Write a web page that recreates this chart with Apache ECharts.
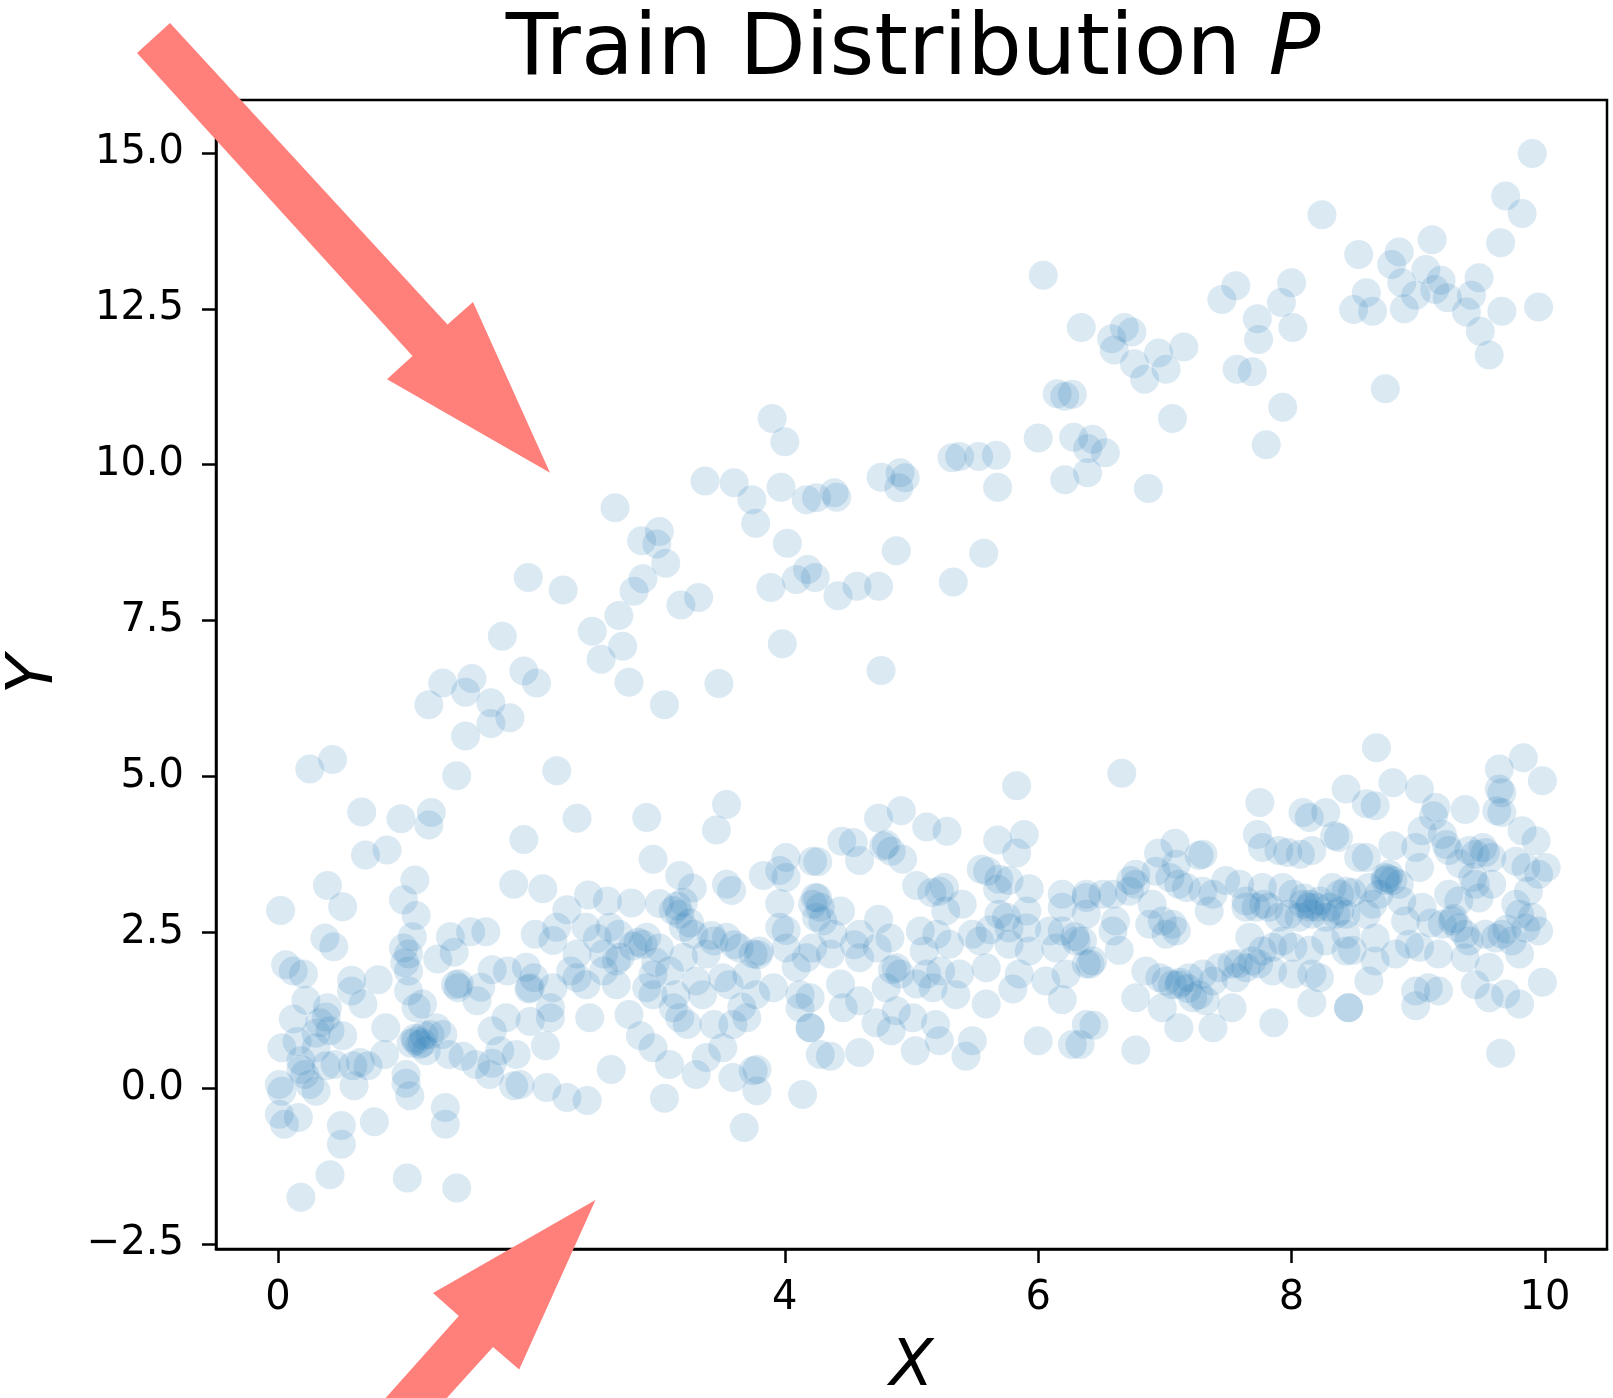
<!DOCTYPE html>
<html>
<head>
<meta charset="utf-8">
<script src="https://cdn.jsdelivr.net/npm/echarts@6/dist/echarts.min.js"></script>
<style>
html,body{margin:0;padding:0;background:#fff;}
#chart{width:1613px;height:1398px;}
</style>
</head>
<body>
<div id="chart"></div>
<script>
// ---- data ----
var xTickValues = [0, 2, 4, 6, 8, 10];
var yTickValues = [-2.5, 0, 2.5, 5, 7.5, 10, 12.5, 15];

// upper branch of the distribution
var upperPoints = [
[1.975,8.19],[2.25,7.99],[1.77,7.25],[1.94,6.69],[2.04,6.50],[1.30,6.50],[1.53,6.57],[1.48,6.35],[1.19,6.15],[1.68,6.18],[1.83,5.94],[1.68,5.85],[1.48,5.65],[0.25,5.12],[0.43,5.27],[1.41,5.01],[2.20,5.09],
[3.90,10.74],[4.00,10.37],[3.37,9.74],[3.60,9.71],[3.74,9.44],[3.77,9.06],[3.97,9.64],[4.17,9.44],[4.25,9.47],[4.39,9.55],[4.41,9.48],[4.76,9.80],[4.91,9.87],[4.95,9.79],[4.90,9.63],[4.02,8.74],[4.88,8.62],[4.18,8.32],[4.24,8.19],[4.09,8.16],[3.89,8.03],[4.42,7.90],[4.57,8.05],[4.74,8.05],[3.98,7.13],[4.76,6.70],[2.66,9.31],[3.01,8.93],[2.87,8.78],[2.99,8.73],[3.06,8.42],[2.88,8.17],[2.81,7.97],[3.18,7.75],[3.32,7.87],[2.69,7.58],[2.48,7.33],[2.72,7.09],[2.55,6.88],[2.77,6.51],[3.05,6.15],[3.48,6.49],
[6.04,13.04],[6.34,12.20],[6.58,12.02],[6.68,12.20],[6.74,12.13],[6.60,11.84],[6.76,11.62],[6.95,11.79],[7.15,11.89],[7.01,11.53],[6.84,11.37],[7.56,12.87],[7.45,12.65],[7.73,12.34],[7.74,12.01],[7.57,11.53],[7.69,11.49],[6.15,11.14],[6.21,11.10],[6.27,11.13],[7.06,10.74],[6.00,10.43],[6.28,10.44],[6.43,10.41],[6.39,10.26],[6.53,10.19],[6.21,9.76],[6.39,9.87],[6.87,9.62],[7.80,10.32],[5.32,10.11],[5.38,10.13],[5.53,10.13],[5.67,10.15],[5.68,9.64],[5.57,8.58],[5.33,8.12],
[9.90,14.99],[9.69,14.31],[9.82,14.03],[9.65,13.56],[8.24,14.01],[8.53,13.37],[8.85,13.41],[8.79,13.21],[9.11,13.61],[9.06,13.13],[8.87,12.92],[9.18,12.96],[9.13,12.81],[8.98,12.72],[9.23,12.68],[9.42,12.72],[9.48,13.00],[8.59,12.76],[8.49,12.49],[8.64,12.46],[8.89,12.50],[9.38,12.45],[9.49,12.14],[9.66,12.46],[9.95,12.53],[9.56,11.76],[8.74,11.22],[8.00,12.92],[7.92,12.60],[8.01,12.20],[7.93,10.92]
];

// lower branch, x from 0 to 2
var lowerPointsA = [
[0.66,4.43],[0.97,4.32],[1.21,4.42],[1.19,4.22],[0.69,3.74],[0.86,3.82],[1.94,3.99],[1.08,3.34],[0.39,3.25],[0.51,2.91],[0.02,2.85],[0.99,3.02],[1.09,2.77],[1.86,3.27],[0.37,2.41],[0.44,2.27],[1.06,2.43],[0.99,2.25],[1.36,2.43],[1.52,2.51],[1.64,2.51],[1.39,2.18],[0.06,1.98],[0.12,1.88],[0.20,1.83],[1.03,2.15],[1.00,2.01],[1.03,1.88],[1.26,2.07],[1.43,1.68],[1.42,1.61],[0.79,1.74],[0.58,1.73],[1.69,1.90],[1.81,1.88],[1.57,1.40],[1.98,1.59],[1.03,1.56],[0.22,1.41],[0.39,1.29],[0.58,1.56],[0.67,1.35],[0.12,1.11],[0.38,1.14],[0.51,0.84],[0.03,0.65],[0.15,0.75],[0.30,0.65],[0.41,0.92],[0.85,0.97],[1.09,1.29],[1.14,1.35],[1.09,0.76],[1.14,0.73],[1.20,0.86],[1.25,0.97],[1.30,0.86],[1.17,0.60],[1.35,0.54],[1.46,0.51],[1.56,0.38],[1.69,0.40],[1.75,0.60],[1.88,0.54],[1.67,0.22],[1.86,0.04],[0.59,0.36],[0.65,0.41],[0.71,0.36],[0.60,0.04],[0.84,0.54],[0.18,0.44],[0.38,0.36],[0.21,0.22],[0.01,0.06],[0.03,-0.05],[0.25,0.06],[0.30,-0.05],[1.01,0.22],[1.01,0.08],[1.04,-0.12],[1.32,-0.31],[1.32,-0.58],[0.01,-0.42],[0.05,-0.58],[0.16,-0.47],[0.50,-0.60],[0.50,-0.90],[0.76,-0.54],[0.41,-1.39],[0.18,-1.75],[1.02,-1.44],[1.41,-1.60],[1.80,1.13],[1.69,0.92],
[1.08,0.80],[1.12,0.70],[1.05,0.72],[1.15,0.85],[1.40,1.66],[0.33,1.05],[0.30,0.88],[0.18,0.30],[1.60,1.62],[0.45,0.38]
];

// lower branch, x from 2 to 4.3
var lowerPointsB = [
[2.36,4.33],[2.91,4.34],[3.54,4.55],[3.46,4.14],[2.96,3.67],[2.09,3.20],[2.45,3.10],[2.28,2.86],[2.60,3.00],[2.79,2.97],[3.01,2.96],[3.17,3.41],[3.27,3.21],[3.20,2.98],[3.17,2.79],[3.25,2.65],[3.54,3.27],[3.58,3.17],[3.83,3.41],[4.01,3.70],[3.96,3.49],[4.01,3.38],[4.22,3.64],[3.96,2.96],[3.96,2.58],[4.01,2.53],[4.22,2.95],[4.25,2.74],[2.03,2.47],[2.20,2.58],[2.17,2.37],[2.43,2.58],[2.62,2.58],[2.69,2.47],[2.91,2.42],[3.01,2.25],[3.20,2.58],[3.28,2.47],[3.44,2.36],[3.54,2.42],[3.64,2.25],[3.75,2.15],[3.80,2.20],[4.01,2.25],[4.22,2.25],[2.36,2.15],[2.57,2.15],[2.70,2.10],[2.88,2.31],[3.20,2.10],[3.38,2.15],[1.96,1.94],[2.02,1.77],[2.31,1.88],[2.36,1.77],[2.57,1.88],[2.67,2.04],[2.96,1.82],[3.09,1.88],[3.30,1.72],[3.51,1.77],[3.70,1.82],[3.91,1.61],[4.09,1.94],[1.99,1.61],[2.17,1.61],[2.43,1.66],[2.67,1.66],[2.91,1.61],[2.96,1.50],[3.14,1.50],[3.35,1.50],[3.56,1.66],[3.77,1.50],[4.12,1.50],[2.15,1.29],[1.99,1.07],[2.15,1.13],[2.46,1.13],[2.77,1.18],[3.12,1.29],[3.17,1.13],[3.23,1.02],[3.44,1.02],[3.59,1.02],[3.70,1.13],[4.12,1.29],[4.20,0.97],[2.11,0.68],[2.86,0.84],[2.96,0.65],[3.09,0.38],[3.30,0.22],[3.38,0.49],[3.51,0.65],[3.75,0.28],[3.78,0.30],[3.78,-0.04],[3.59,0.17],[2.63,0.30],[1.91,0.06],[2.12,0.01],[2.28,-0.15],[2.44,-0.20],[3.05,-0.16],[3.68,-0.63],[4.14,-0.10],[4.28,0.54],
[2.84,2.34],[2.80,2.28],[3.15,2.92],[3.12,2.85],[3.79,2.14],[3.60,2.30],[3.42,2.45],[2.52,2.40],[2.98,2.02],[3.66,1.30]
];

// lower branch, x from 4.2 to 6.4
var lowerPointsC = [
[5.83,4.85],[4.74,4.33],[4.92,4.45],[5.12,4.19],[5.28,4.12],[5.68,3.98],[5.89,4.07],[5.83,3.77],[4.45,3.96],[4.54,3.94],[4.59,3.65],[4.26,3.63],[4.80,3.91],[4.84,3.80],[4.93,3.67],[5.04,3.25],[5.16,3.14],[5.22,3.16],[5.26,3.22],[5.27,2.84],[5.55,3.51],[5.60,3.48],[5.69,3.35],[5.77,3.33],[5.93,3.20],[5.68,3.19],[5.69,2.79],[5.75,2.74],[5.91,2.84],[6.19,3.11],[6.38,3.06],[6.19,2.90],[4.24,3.06],[4.28,2.90],[4.44,2.84],[4.30,2.68],[4.38,2.47],[4.59,2.47],[4.74,2.71],[4.83,2.41],[4.73,2.25],[5.07,2.52],[5.20,2.47],[5.30,2.31],[5.48,2.47],[5.54,2.36],[5.77,2.57],[5.91,2.57],[6.09,2.52],[6.19,2.52],[6.30,2.36],[6.14,2.25],[5.77,2.31],[5.93,2.20],[4.17,2.09],[4.36,2.15],[4.59,2.09],[4.88,1.93],[4.91,1.83],[5.12,1.83],[5.23,1.88],[5.38,1.83],[5.59,1.93],[5.85,1.83],[6.06,1.72],[6.22,1.83],[6.38,1.99],[4.44,1.67],[4.59,1.40],[4.80,1.61],[5.04,1.67],[5.17,1.61],[5.35,1.50],[5.59,1.35],[5.80,1.59],[6.19,1.42],[4.20,1.45],[4.46,1.29],[4.72,1.05],[4.84,0.92],[4.88,1.24],[5.01,1.13],[5.19,1.02],[5.22,0.76],[5.48,0.76],[5.43,0.51],[5.03,0.60],[4.20,0.97],[4.36,0.51],[4.59,0.57],[6.00,0.76],[6.27,0.70],[6.38,1.02],
[4.26,3.05],[4.78,3.88],[4.85,1.90],[5.62,2.54],[6.29,2.43],[5.10,2.20],[4.55,2.30],[5.40,2.95]
];

// lower branch, x from 6.3 to 8.5
var lowerPointsD = [
[6.66,5.05],[7.75,4.58],[8.43,4.80],[8.09,4.42],[8.14,4.34],[8.27,4.42],[8.34,4.05],[7.73,4.07],[7.77,3.86],[7.90,3.81],[7.97,3.78],[8.07,3.75],[8.16,3.81],[8.53,3.70],[7.08,3.93],[6.95,3.77],[7.27,3.73],[7.30,3.75],[7.09,3.59],[6.77,3.43],[6.73,3.33],[6.93,3.48],[7.04,3.38],[7.11,3.27],[7.17,3.22],[7.30,3.16],[7.38,3.11],[7.48,3.33],[7.59,3.27],[7.64,3.00],[7.72,2.90],[7.77,3.22],[7.93,3.22],[8.01,3.11],[8.09,2.95],[8.14,2.90],[8.22,3.00],[8.30,2.90],[8.32,3.22],[8.43,3.16],[7.98,2.79],[8.06,2.74],[8.16,2.79],[8.27,2.74],[8.35,2.79],[6.38,3.11],[6.51,3.11],[6.59,3.11],[6.72,3.16],[6.77,3.27],[6.38,2.79],[6.61,2.68],[6.59,2.52],[6.90,2.95],[6.88,2.63],[6.98,2.68],[7.06,2.63],[7.09,2.52],[7.01,2.47],[7.35,2.84],[7.67,2.42],[7.64,2.90],[7.90,2.74],[7.82,2.90],[8.38,2.84],[8.43,2.47],[8.48,2.21],[8.14,2.21],[8.27,2.36],[6.35,2.36],[6.64,2.21],[6.41,1.99],[6.43,2.04],[6.85,1.88],[6.96,1.77],[7.01,1.72],[7.06,1.66],[7.11,1.66],[7.19,1.77],[7.22,1.45],[7.27,1.50],[7.32,1.40],[7.38,1.72],[7.30,1.83],[7.43,1.93],[7.56,1.77],[7.53,1.99],[7.64,1.93],[7.69,2.04],[7.74,1.99],[7.77,2.20],[7.85,2.26],[7.93,2.36],[8.01,2.26],[7.85,1.88],[8.01,1.83],[8.16,1.83],[8.22,1.77],[6.77,1.45],[6.98,1.29],[7.11,0.97],[7.38,0.97],[7.53,1.29],[7.86,1.05],[8.16,1.37],[8.45,1.29],[6.44,1.01],[6.77,0.61],[6.33,0.70],
[7.12,1.70],[7.18,1.60],[8.15,2.95],[8.20,2.90],[7.78,2.95],[7.58,2.00],[8.10,3.05]
];

// lower branch, x from 8.4 to 10
var lowerPointsE = [
[8.67,5.46],[9.83,5.30],[9.64,5.12],[9.98,4.93],[9.64,4.80],[9.66,4.74],[9.62,4.45],[9.66,4.42],[8.80,4.90],[9.01,4.80],[8.59,4.56],[8.66,4.53],[9.14,4.50],[9.12,4.37],[9.37,4.47],[9.82,4.13],[9.93,3.97],[9.03,4.13],[9.19,4.07],[9.22,3.91],[9.24,3.81],[8.98,3.86],[8.80,3.89],[8.59,3.70],[8.37,4.02],[9.40,3.81],[9.45,3.75],[9.53,3.78],[9.58,3.70],[9.51,3.86],[9.77,3.64],[9.85,3.54],[9.95,3.43],[10.01,3.54],[8.74,3.38],[8.80,3.33],[8.85,3.27],[8.77,3.43],[8.69,3.11],[8.87,3.00],[9.01,3.54],[9.03,2.90],[8.38,3.11],[8.48,3.14],[8.61,3.22],[8.43,2.79],[8.59,2.79],[8.64,2.95],[9.24,3.11],[9.32,3.00],[9.45,3.27],[9.48,3.05],[9.58,3.27],[9.43,3.38],[9.77,2.95],[9.80,2.79],[9.87,3.16],[9.90,2.74],[9.95,2.52],[9.19,2.63],[9.27,2.68],[9.32,2.57],[9.37,2.47],[9.40,2.36],[9.53,2.47],[9.61,2.41],[9.66,2.47],[9.74,2.36],[9.85,2.57],[8.90,2.68],[8.43,2.20],[8.66,2.41],[8.82,2.15],[8.93,2.31],[9.01,2.26],[9.16,2.15],[9.37,2.09],[9.56,1.94],[9.80,2.15],[8.61,1.72],[8.66,2.04],[8.98,1.56],[9.08,1.61],[9.16,1.56],[8.98,1.32],[9.45,1.66],[9.56,1.45],[9.69,1.51],[9.80,1.35],[9.98,1.70],[8.45,1.29],[9.65,0.56],
[8.74,3.33],[8.76,3.36],[9.10,2.65],[9.33,3.60],[9.28,2.72],[9.70,2.55]
];

var allPoints = lowerPointsA.concat(lowerPointsB, lowerPointsC, lowerPointsD, lowerPointsE, upperPoints);

// ---- chart ----
var FONT = 'DejaVu Sans';
var chart = echarts.init(document.getElementById('chart'), null, {renderer: 'canvas'});
function fmtY(v) {
  var s = Math.abs(v).toFixed(1);
  return (v < 0 ? '\u2212' : '') + s;
}
var option = {
  animation: false,
  backgroundColor: '#ffffff',
  title: {
    text: 'Train Distribution {i|P}',
    left: 913,
    top: 9,
    textAlign: 'center',
    padding: 0,
    textStyle: {
      fontFamily: FONT, fontSize: 86, fontWeight: 'normal', color: '#000',
      rich: { i: { fontFamily: FONT, fontSize: 86, fontStyle: 'italic', color: '#000' } }
    }
  },
  grid: {
    left: 216, right: 6, top: 100, bottom: 149,
    containLabel: false,
    outerBoundsMode: 'none',
    show: true,
    borderColor: '#000',
    borderWidth: 2.5,
    backgroundColor: 'transparent'
  },
  xAxis: {
    type: 'value',
    min: -0.49, max: 10.49,
    name: 'X',
    nameLocation: 'middle',
    nameGap: 87,
    nameTextStyle: { fontFamily: FONT, fontSize: 64, fontStyle: 'italic', color: '#000' },
    splitLine: { show: false },
    axisLine: { show: true, onZero: false, lineStyle: { color: '#000', width: 2.5 } },
    axisTick: { show: true, inside: false, length: 14, customValues: xTickValues, lineStyle: { color: '#000', width: 2.5 } },
    axisLabel: {
      show: true, customValues: xTickValues, margin: 30,
      fontFamily: FONT, fontSize: 40, color: '#000',
      formatter: function (v) { return String(Math.round(v)); }
    }
  },
  yAxis: {
    type: 'value',
    min: -2.58, max: 15.85,
    name: 'Y',
    nameLocation: 'middle',
    nameRotate: 90,
    nameGap: 149,
    nameTextStyle: { fontFamily: FONT, fontSize: 64, fontStyle: 'italic', color: '#000' },
    splitLine: { show: false },
    axisLine: { show: true, onZero: false, lineStyle: { color: '#000', width: 2.5 } },
    axisTick: { show: true, inside: false, length: 14, customValues: yTickValues, lineStyle: { color: '#000', width: 2.5 } },
    axisLabel: {
      show: true, customValues: yTickValues, margin: 32,
      fontFamily: FONT, fontSize: 40, color: '#000',
      formatter: fmtY
    }
  },
  series: [{
    type: 'scatter',
    data: allPoints,
    symbol: 'circle',
    symbolSize: 29,
    itemStyle: { color: 'rgba(31,119,180,0.2)', borderWidth: 0 },
    emphasis: { disabled: true },
    silent: true,
    clip: false,
    z: 2
  }],
  graphic: {
    elements: [
      {
        type: 'polygon', z: 100, silent: true,
        shape: { points: [[137,53],[412.5,356],[387,379.3],[550,472.7],[473,302],[447.5,324.5],[170,23]] },
        style: { fill: '#ff7f7b' }
      },
      {
        type: 'polygon', z: 100, silent: true,
        shape: { points: [[325.8,1465],[458.8,1316],[433,1293],[595.5,1200],[519.2,1369.5],[493,1347],[359,1495]] },
        style: { fill: '#ff7f7b' }
      }
    ]
  }
};
chart.setOption(option);
</script>
</body>
</html>
